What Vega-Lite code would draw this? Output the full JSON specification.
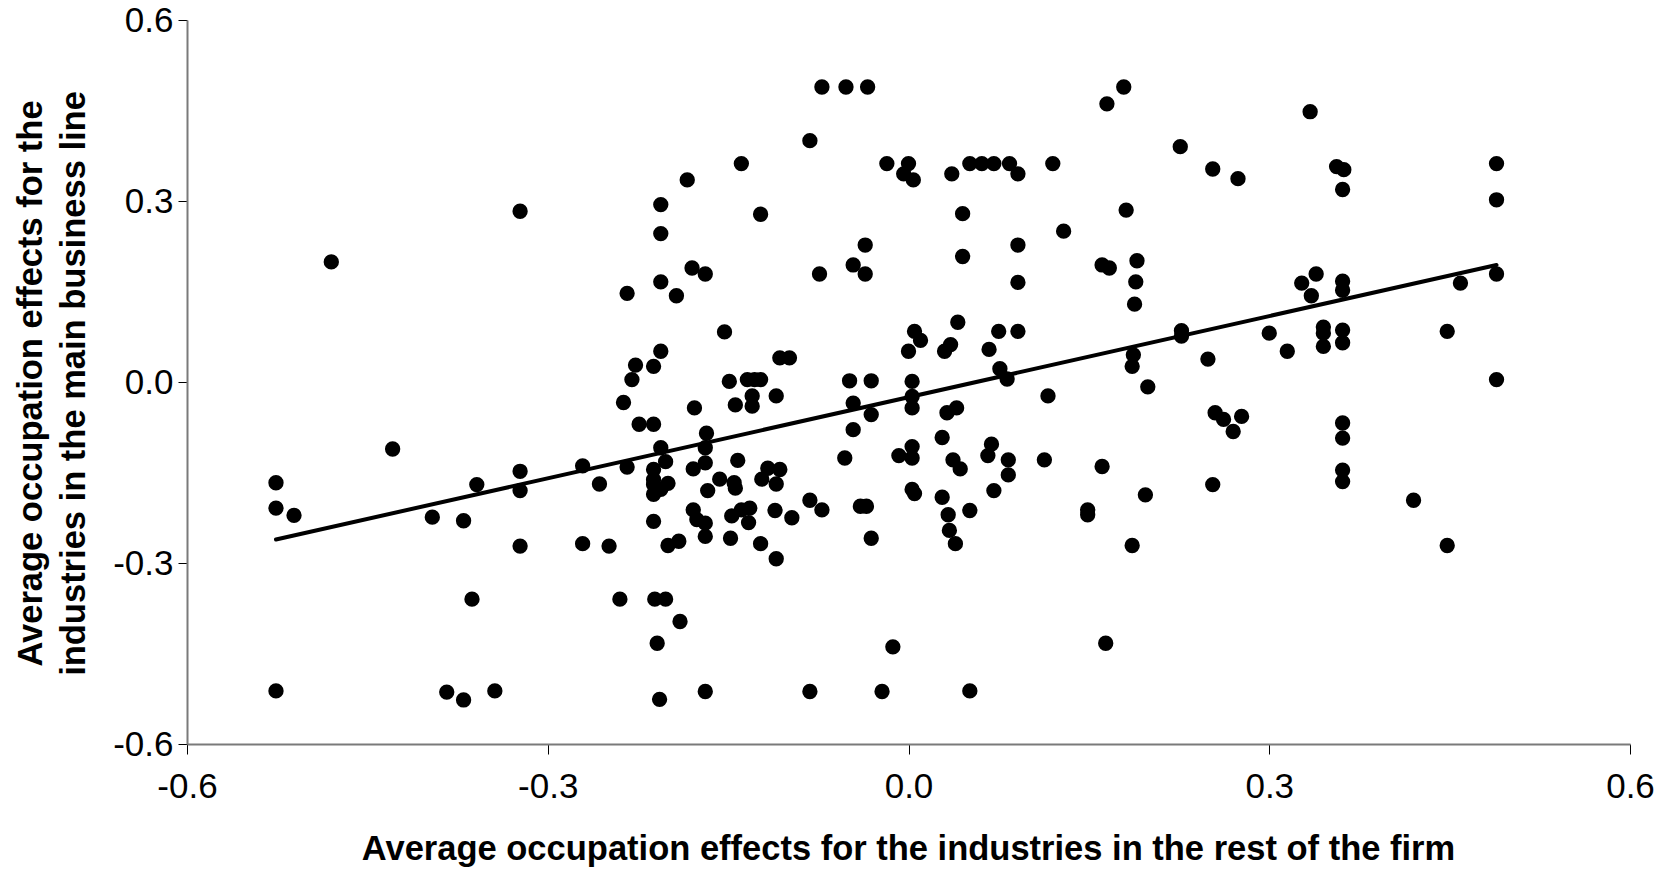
{
  "$schema": "https://vega.github.io/schema/vega-lite/v6.json",
  "width": 1443,
  "height": 724,
  "autosize": {"type": "none"},
  "padding": {"left": 187, "top": 20, "right": 35, "bottom": 126},
  "background": "white",
  "config": {"view": {"stroke": null}, "font": "Liberation Sans"},
  "datasets": {
    "pts": [
      {"x": -0.323, "y": 0.283}, {"x": -0.480, "y": 0.199},
      {"x": -0.429, "y": -0.111}, {"x": -0.526, "y": -0.167}, {"x": -0.526, "y": -0.209}, {"x": -0.511, "y": -0.221},
      {"x": -0.359, "y": -0.170}, {"x": -0.323, "y": -0.148}, {"x": -0.323, "y": -0.180}, {"x": -0.396, "y": -0.224},
      {"x": -0.370, "y": -0.230}, {"x": -0.323, "y": -0.272}, {"x": -0.363, "y": -0.360}, {"x": -0.526, "y": -0.512},
      {"x": -0.384, "y": -0.514}, {"x": -0.370, "y": -0.527}, {"x": -0.344, "y": -0.512},
      {"x": -0.072, "y": 0.489}, {"x": -0.052, "y": 0.489}, {"x": -0.034, "y": 0.489}, {"x": -0.082, "y": 0.400},
      {"x": -0.139, "y": 0.362}, {"x": -0.018, "y": 0.362}, {"x": 0.000, "y": 0.362}, {"x": -0.004, "y": 0.345},
      {"x": 0.004, "y": 0.335}, {"x": -0.184, "y": 0.335}, {"x": -0.206, "y": 0.294}, {"x": -0.123, "y": 0.278},
      {"x": -0.206, "y": 0.246}, {"x": -0.036, "y": 0.227}, {"x": -0.046, "y": 0.194}, {"x": -0.036, "y": 0.179},
      {"x": -0.074, "y": 0.179}, {"x": -0.180, "y": 0.189}, {"x": -0.169, "y": 0.179}, {"x": -0.206, "y": 0.166},
      {"x": -0.234, "y": 0.147}, {"x": -0.193, "y": 0.143}, {"x": -0.153, "y": 0.083}, {"x": 0.005, "y": 0.084},
      {"x": 0.010, "y": 0.069}, {"x": 0.000, "y": 0.051}, {"x": -0.206, "y": 0.051}, {"x": -0.227, "y": 0.028},
      {"x": -0.212, "y": 0.026}, {"x": -0.230, "y": 0.004}, {"x": -0.107, "y": 0.040}, {"x": -0.099, "y": 0.040},
      {"x": -0.149, "y": 0.001}, {"x": -0.134, "y": 0.004}, {"x": -0.128, "y": 0.004}, {"x": -0.123, "y": 0.004},
      {"x": -0.049, "y": 0.002}, {"x": -0.031, "y": 0.002}, {"x": 0.003, "y": 0.001},
      {"x": -0.237, "y": -0.034}, {"x": -0.178, "y": -0.043}, {"x": -0.144, "y": -0.038}, {"x": -0.130, "y": -0.023},
      {"x": -0.130, "y": -0.040}, {"x": -0.110, "y": -0.023}, {"x": -0.046, "y": -0.035}, {"x": -0.031, "y": -0.054},
      {"x": 0.003, "y": -0.043}, {"x": 0.003, "y": -0.024}, {"x": -0.224, "y": -0.070}, {"x": -0.212, "y": -0.070},
      {"x": -0.046, "y": -0.079}, {"x": -0.168, "y": -0.085}, {"x": -0.206, "y": -0.109}, {"x": -0.169, "y": -0.109},
      {"x": -0.271, "y": -0.139}, {"x": -0.234, "y": -0.141}, {"x": -0.142, "y": -0.130}, {"x": -0.053, "y": -0.126},
      {"x": -0.008, "y": -0.122}, {"x": 0.003, "y": -0.107}, {"x": 0.003, "y": -0.126}, {"x": -0.202, "y": -0.132},
      {"x": -0.212, "y": -0.145}, {"x": -0.179, "y": -0.144}, {"x": -0.169, "y": -0.134}, {"x": -0.257, "y": -0.169},
      {"x": -0.212, "y": -0.162}, {"x": -0.212, "y": -0.170}, {"x": -0.200, "y": -0.168}, {"x": -0.206, "y": -0.178},
      {"x": -0.212, "y": -0.186}, {"x": -0.157, "y": -0.161}, {"x": -0.167, "y": -0.180}, {"x": -0.145, "y": -0.167},
      {"x": -0.144, "y": -0.176}, {"x": -0.117, "y": -0.143}, {"x": -0.107, "y": -0.145}, {"x": -0.122, "y": -0.161},
      {"x": -0.110, "y": -0.169}, {"x": 0.003, "y": -0.178}, {"x": 0.005, "y": -0.185}, {"x": -0.212, "y": -0.231},
      {"x": -0.179, "y": -0.212}, {"x": -0.176, "y": -0.228}, {"x": -0.169, "y": -0.234}, {"x": -0.169, "y": -0.256},
      {"x": -0.200, "y": -0.271}, {"x": -0.191, "y": -0.264}, {"x": -0.271, "y": -0.268}, {"x": -0.249, "y": -0.272},
      {"x": -0.147, "y": -0.222}, {"x": -0.139, "y": -0.212}, {"x": -0.132, "y": -0.209}, {"x": -0.133, "y": -0.233},
      {"x": -0.148, "y": -0.259}, {"x": -0.123, "y": -0.268}, {"x": -0.110, "y": -0.293}, {"x": -0.111, "y": -0.213},
      {"x": -0.097, "y": -0.225}, {"x": -0.082, "y": -0.196}, {"x": -0.072, "y": -0.212}, {"x": -0.040, "y": -0.206},
      {"x": -0.035, "y": -0.206}, {"x": -0.031, "y": -0.259}, {"x": -0.240, "y": -0.360}, {"x": -0.211, "y": -0.360},
      {"x": -0.202, "y": -0.360}, {"x": -0.190, "y": -0.397}, {"x": -0.209, "y": -0.433}, {"x": -0.207, "y": -0.526},
      {"x": -0.169, "y": -0.513}, {"x": -0.082, "y": -0.513}, {"x": -0.022, "y": -0.513}, {"x": -0.013, "y": -0.439},
      {"x": 0.179, "y": 0.489}, {"x": 0.165, "y": 0.461}, {"x": 0.226, "y": 0.390}, {"x": 0.253, "y": 0.353},
      {"x": 0.274, "y": 0.337}, {"x": 0.036, "y": 0.345}, {"x": 0.051, "y": 0.362}, {"x": 0.061, "y": 0.362},
      {"x": 0.071, "y": 0.362}, {"x": 0.084, "y": 0.362}, {"x": 0.091, "y": 0.345}, {"x": 0.120, "y": 0.362},
      {"x": 0.045, "y": 0.279}, {"x": 0.129, "y": 0.250}, {"x": 0.181, "y": 0.285}, {"x": 0.045, "y": 0.208},
      {"x": 0.091, "y": 0.227}, {"x": 0.091, "y": 0.165}, {"x": 0.161, "y": 0.194}, {"x": 0.167, "y": 0.189},
      {"x": 0.190, "y": 0.201}, {"x": 0.189, "y": 0.166}, {"x": 0.188, "y": 0.129}, {"x": 0.041, "y": 0.099},
      {"x": 0.035, "y": 0.062}, {"x": 0.030, "y": 0.051}, {"x": 0.075, "y": 0.084}, {"x": 0.091, "y": 0.084},
      {"x": 0.067, "y": 0.054}, {"x": 0.076, "y": 0.022}, {"x": 0.082, "y": 0.005}, {"x": 0.187, "y": 0.045},
      {"x": 0.186, "y": 0.026}, {"x": 0.227, "y": 0.085}, {"x": 0.227, "y": 0.076}, {"x": 0.249, "y": 0.038},
      {"x": 0.300, "y": 0.081}, {"x": 0.199, "y": -0.008},
      {"x": 0.334, "y": 0.448}, {"x": 0.356, "y": 0.357}, {"x": 0.362, "y": 0.352}, {"x": 0.361, "y": 0.319},
      {"x": 0.489, "y": 0.362}, {"x": 0.489, "y": 0.302}, {"x": 0.489, "y": 0.179}, {"x": 0.459, "y": 0.164},
      {"x": 0.327, "y": 0.164}, {"x": 0.339, "y": 0.179}, {"x": 0.335, "y": 0.143}, {"x": 0.361, "y": 0.167},
      {"x": 0.361, "y": 0.152}, {"x": 0.315, "y": 0.051}, {"x": 0.345, "y": 0.091}, {"x": 0.345, "y": 0.081},
      {"x": 0.345, "y": 0.059}, {"x": 0.361, "y": 0.086}, {"x": 0.361, "y": 0.065}, {"x": 0.448, "y": 0.084},
      {"x": 0.489, "y": 0.004},
      {"x": 0.361, "y": -0.068}, {"x": 0.361, "y": -0.093}, {"x": 0.361, "y": -0.146}, {"x": 0.361, "y": -0.165},
      {"x": 0.420, "y": -0.196}, {"x": 0.448, "y": -0.271},
      {"x": 0.116, "y": -0.023}, {"x": 0.032, "y": -0.051}, {"x": 0.040, "y": -0.043}, {"x": 0.028, "y": -0.092},
      {"x": 0.255, "y": -0.051}, {"x": 0.262, "y": -0.062}, {"x": 0.277, "y": -0.057}, {"x": 0.270, "y": -0.082},
      {"x": 0.037, "y": -0.129}, {"x": 0.043, "y": -0.144}, {"x": 0.069, "y": -0.103}, {"x": 0.066, "y": -0.122},
      {"x": 0.083, "y": -0.129}, {"x": 0.083, "y": -0.154}, {"x": 0.113, "y": -0.129}, {"x": 0.161, "y": -0.140},
      {"x": 0.253, "y": -0.170}, {"x": 0.197, "y": -0.187}, {"x": 0.028, "y": -0.191}, {"x": 0.071, "y": -0.180},
      {"x": 0.051, "y": -0.213}, {"x": 0.033, "y": -0.220}, {"x": 0.034, "y": -0.246}, {"x": 0.039, "y": -0.268},
      {"x": 0.149, "y": -0.212}, {"x": 0.149, "y": -0.220}, {"x": 0.186, "y": -0.271}, {"x": 0.164, "y": -0.433},
      {"x": 0.051, "y": -0.512}
    ],
    "fit": [
      {"x": -0.526, "y": -0.261},
      {"x": 0.489, "y": 0.194}
    ]
  },
  "layer": [
    {
      "data": {"name": "pts"},
      "mark": {"type": "circle", "size": 235, "color": "black", "opacity": 1},
      "encoding": {
        "x": {
          "field": "x", "type": "quantitative",
          "scale": {"domain": [-0.6, 0.6], "nice": false, "zero": false},
          "axis": {
            "values": [-0.6, -0.3, 0, 0.3, 0.6],
            "labelExpr": "replace(format(datum.value, '.1f'), '\u2212', '-')",
            "grid": false, "labelFlush": false, "labelOverlap": false,
            "domainColor": "#7a7a7a", "domainWidth": 2,
            "tickColor": "black", "tickWidth": 1, "tickSize": 10,
            "labelFont": "Liberation Sans", "labelFontSize": 35, "labelColor": "black", "labelPadding": 15,
            "title": "Average occupation effects for the industries in the rest of the firm",
            "titleFont": "Liberation Sans", "titleFontSize": 34.5, "titleFontWeight": "bold", "titleColor": "black",
            "titleBaseline": "alphabetic", "titleY": 115, "titleX": 721
          }
        },
        "y": {
          "field": "y", "type": "quantitative",
          "scale": {"domain": [-0.6, 0.6], "nice": false, "zero": false},
          "axis": {
            "values": [-0.6, -0.3, 0, 0.3, 0.6],
            "labelExpr": "replace(format(datum.value, '.1f'), '\u2212', '-')",
            "grid": false, "labelFlush": false, "labelOverlap": false,
            "domainColor": "#7a7a7a", "domainWidth": 2,
            "tickColor": "black", "tickWidth": 1, "tickSize": 9,
            "labelFont": "Liberation Sans", "labelFontSize": 35, "labelColor": "black", "labelPadding": 5,
            "title": ["Average occupation effects for the", "industries in the main business line"],
            "titleFont": "Liberation Sans", "titleFontSize": 34.5, "titleFontWeight": "bold", "titleColor": "black",
            "titleAngle": -90, "titleAlign": "center", "titleBaseline": "alphabetic",
            "titleLineHeight": 43, "titleX": -146, "titleY": 363
          }
        }
      }
    },
    {
      "data": {"name": "fit"},
      "mark": {"type": "line", "color": "black", "strokeWidth": 4, "strokeCap": "round"},
      "encoding": {
        "x": {"field": "x", "type": "quantitative"},
        "y": {"field": "y", "type": "quantitative"}
      }
    }
  ]
}
